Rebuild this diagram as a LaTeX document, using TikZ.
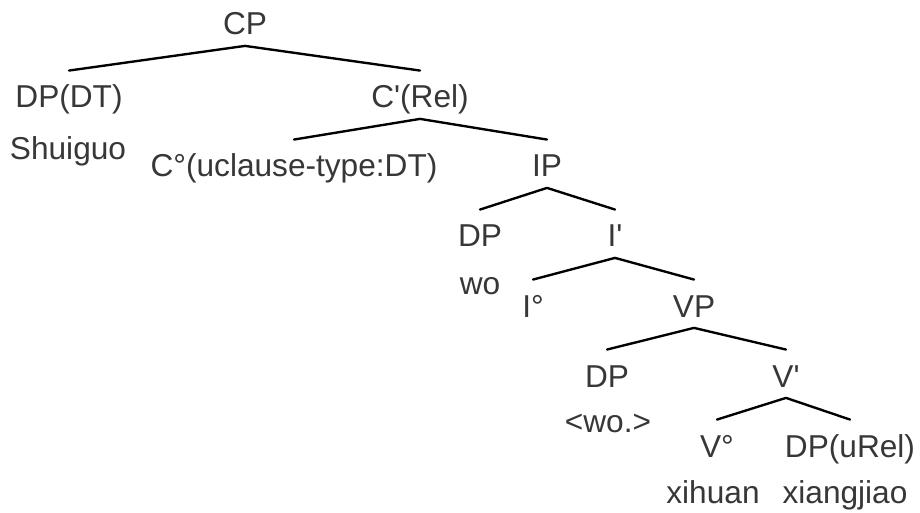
\documentclass[tikz,border=0pt]{standalone}
\usepackage{fontspec}
\setmainfont{Liberation Sans}
\usepackage{tikz}
\definecolor{txtgray}{RGB}{55,55,55}
\tikzstyle{every node}=[font=\fontsize{18}{21}\selectfont,text=txtgray]
\tikzstyle{cat}=[anchor=base,inner xsep=0pt,inner ysep=6pt,text height=15.1pt,text depth=0pt]
\tikzstyle{word}=[anchor=base,inner sep=0pt]
\tikzstyle{branch}=[line width=1.35pt,line cap=round,line join=round]

\begin{document}
\begin{tikzpicture}
\useasboundingbox[fill=white] (0,0) rectangle (18.4,-10.26);
\node[cat] (cp) at (4.9,-0.7) {CP};
\node[cat] (dpdt) at (1.38,-2.16) {DP(DT)};
\node[word] (shuiguo) at (1.36,-3.2) {Shuiguo};
\node[cat] (crel) at (8.4,-2.16) {C\textquotesingle(Rel)};
\draw[branch] (cp.south) -- (dpdt.north);
\draw[branch] (cp.south) -- (crel.north);
\node[cat] (cdeg) at (5.88,-3.54) {C°(uclause-type:DT)};
\node[cat] (ip) at (10.94,-3.54) {IP};
\draw[branch] (crel.south) -- (cdeg.north);
\draw[branch] (crel.south) -- (ip.north);
\node[cat] (dpi) at (9.6,-4.94) {DP};
\node[word] (wo) at (9.6,-5.9) {wo};
\node[cat] (ibar) at (12.3,-4.94) {I\textquotesingle};
\draw[branch] (ip.south) -- (dpi.north);
\draw[branch] (ip.south) -- (ibar.north);
\node[cat] (ideg) at (10.66,-6.34) {I°};
\node[cat] (vp) at (13.88,-6.34) {VP};
\draw[branch] (ibar.south) -- (ideg.north);
\draw[branch] (ibar.south) -- (vp.north);
\node[cat] (dpv) at (12.14,-7.74) {DP};
\node[word] (wotrace) at (12.16,-8.64) {<wo.>};
\node[cat] (vbar) at (15.72,-7.74) {V\textquotesingle};
\draw[branch] (vp.south) -- (dpv.north);
\draw[branch] (vp.south) -- (vbar.north);
\node[cat] (vdeg) at (14.34,-9.14) {V°};
\node[cat] (dpurel) at (17,-9.14) {DP(uRel)};
\draw[branch] (vbar.south) -- (vdeg.north);
\draw[branch] (vbar.south) -- (dpurel.north);
\node[word] (xihuan) at (14.26,-10.06) {xihuan};
\node[word] (xiangjiao) at (16.9,-10.06) {xiangjiao};
\end{tikzpicture}
\end{document}
